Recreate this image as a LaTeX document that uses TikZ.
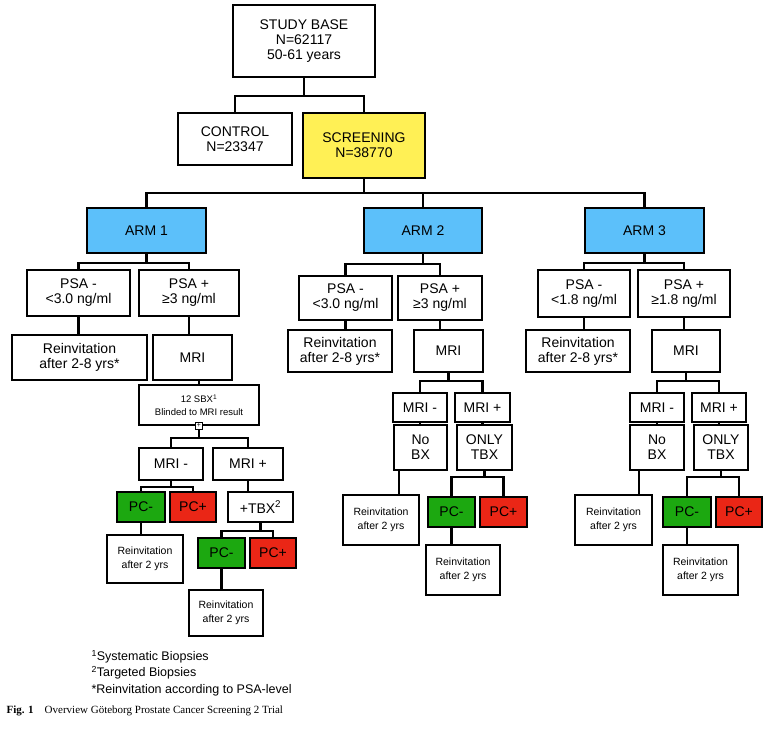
\documentclass[tikz,border=0pt]{standalone}
\usepackage{fontspec}
\setmainfont{Liberation Sans}
\newfontfamily\serif{Liberation Serif}
\definecolor{armblue}{RGB}{92,192,250}
\definecolor{scryel}{RGB}{255,240,85}
\definecolor{pcgreen}{RGB}{28,168,16}
\definecolor{pcred}{RGB}{234,38,22}
\newcommand{\B}[7]{\node[box,#6,minimum width={#4pt-#2pt},minimum height={#5pt-#3pt}] (#1) at ({(#2+#4)/2},{(#3+#5)/2}) {#7};}
\newcommand{\con}[3]{\draw[ln] (#1.south) -- ++(0,#3) -| (#2.north);}
\newcommand{\vd}[2]{\draw[ln] (#1.south) -- (#1.south |- #2.north);}
\newcommand{\vu}[2]{\draw[ln] (#2.north) -- (#2.north |- #1.south);}
\begin{document}
\begin{tikzpicture}[x=1pt,y=-1pt,
 box/.style={draw,line width=1.8pt,inner sep=1pt,align=center,font=\fontsize{14}{15}\selectfont},
 sm/.style={font=\fontsize{10.5}{14}\selectfont},
 ln/.style={line width=2.2pt},
 arm/.style={fill=armblue},
 neg/.style={fill=pcgreen},
 posi/.style={fill=pcred}]
\useasboundingbox (0,0) rectangle (778,728);
\B{sb}{233}{5}{375}{77}{}{STUDY BASE\\N=62117\\50-61 years}
\B{ctl}{178}{113}{292}{165}{}{CONTROL\\N=23347}
\B{scr}{303}{113}{425}{178}{fill=scryel}{SCREENING\\N=38770}
\con{sb}{ctl}{18}\con{sb}{scr}{18}
\B{a1}{87}{208}{206}{253}{arm}{ARM 1}
\B{a2}{364}{208}{482}{253}{arm}{ARM 2}
\B{a3}{585}{208}{704}{253}{arm}{ARM 3}
\con{scr}{a1}{14}\con{scr}{a2}{14}\con{scr}{a3}{14}
% ARM 1
\B{p1m}{27}{270}{130}{316}{}{PSA -\\<3.0 ng/ml}
\B{p1p}{139}{270}{239}{316}{}{PSA +\\≥3 ng/ml}
\con{a1}{p1m}{9}\con{a1}{p1p}{9}
\B{r1}{12}{335}{147}{380}{}{Reinvitation\\after 2-8 yrs*}
\B{m1}{153}{335}{232}{380}{}{MRI}
\vd{p1m}{r1}\vd{p1p}{m1}
\B{sbx}{139}{385}{259}{425}{font=\fontsize{9.5}{12.5}\selectfont}{12 SBX\textsuperscript{1}\\Blinded to MRI result}
\vu{m1}{sbx}
\node[draw,line width=0.6pt,fill=white,minimum size=7pt,inner sep=0pt,font=\fontsize{7}{7}\selectfont] (plus) at (sbx.south) {+};
\B{m1m}{139}{448}{203}{480}{}{MRI -}
\B{m1p}{213}{448}{283}{480}{}{MRI +}
\draw[ln] (plus.south) -- ++(0,8.5) -| (m1m.north);
\draw[ln] (plus.south) -- ++(0,8.5) -| (m1p.north);
\B{pc1a}{117}{492}{165}{522}{neg}{PC-}
\B{pc1b}{170}{492}{216}{522}{posi}{PC+}
\con{m1m}{pc1a}{6}\con{m1m}{pc1b}{6}
\B{tbx1}{228}{492}{293}{522}{}{+TBX\textsuperscript{2}}
\vd{m1p}{tbx1}
\B{ri1}{107}{535}{183}{583}{sm}{Reinvitation\\after 2 yrs}
\vd{pc1a}{ri1}
\B{pc1c}{198}{538}{245}{568}{neg}{PC-}
\B{pc1d}{250}{538}{296}{568}{posi}{PC+}
\con{tbx1}{pc1c}{8}\con{tbx1}{pc1d}{8}
\B{ri1b}{189}{590}{263}{636}{sm}{Reinvitation\\after 2 yrs}
\vd{pc1c}{ri1b}
% ARM 2
\B{p2m}{299}{276}{392}{320}{}{PSA -\\<3.0 ng/ml}
\B{p2p}{398}{276}{482}{320}{}{PSA +\\≥3 ng/ml}
\con{a2}{p2m}{10}\con{a2}{p2p}{10}
\B{r2}{288}{330}{392}{372}{}{Reinvitation\\after 2-8 yrs*}
\B{m2}{414}{330}{483}{372}{}{MRI}
\vd{p2m}{r2}\vd{p2p}{m2}
\B{m2m}{393}{393}{447}{422}{}{MRI -}
\B{m2p}{455}{393}{510}{422}{}{MRI +}
\con{m2}{m2m}{8}\con{m2}{m2p}{8}
\B{nb2}{394}{425}{447}{470}{}{No\\BX}
\B{ot2}{457}{425}{512}{470}{}{ONLY\\TBX}
\vd{m2m}{nb2}\vd{m2p}{ot2}
\B{ri2}{343}{495}{419}{545}{sm}{Reinvitation\\after 2 yrs}
\draw[ln] ([xshift=6pt]nb2.south west) -- ([xshift=6pt]nb2.south west |- ri2.north);
\B{pc2a}{428}{497}{475}{527}{neg}{PC-}
\B{pc2b}{480}{497}{527}{527}{posi}{PC+}
\con{ot2}{pc2a}{6}\con{ot2}{pc2b}{6}
\B{ri2b}{426}{545}{500}{595}{sm}{Reinvitation\\after 2 yrs}
\vd{pc2a}{ri2b}
% ARM 3
\B{p3m}{538}{270}{630}{317}{}{PSA -\\<1.8 ng/ml}
\B{p3p}{638}{270}{730}{317}{}{PSA +\\≥1.8 ng/ml}
\con{a3}{p3m}{9}\con{a3}{p3p}{9}
\B{r3}{526}{330}{630}{372}{}{Reinvitation\\after 2-8 yrs*}
\B{m3}{652}{330}{720}{372}{}{MRI}
\vd{p3m}{r3}\vd{p3p}{m3}
\B{m3m}{630}{393}{684}{422}{}{MRI -}
\B{m3p}{692}{393}{746}{422}{}{MRI +}
\con{m3}{m3m}{8}\con{m3}{m3p}{8}
\B{nb3}{630}{425}{684}{470}{}{No\\BX}
\B{ot3}{694}{425}{748}{470}{}{ONLY\\TBX}
\vd{m3m}{nb3}\vd{m3p}{ot3}
\B{ri3}{575}{495}{652}{545}{sm}{Reinvitation\\after 2 yrs}
\draw[ln] ([xshift=10pt]nb3.south west) -- ([xshift=10pt]nb3.south west |- ri3.north);
\B{pc3a}{663}{497}{711}{527}{neg}{PC-}
\B{pc3b}{716}{497}{762}{527}{posi}{PC+}
\con{ot3}{pc3a}{6}\con{ot3}{pc3b}{6}
\B{ri3b}{663}{545}{738}{595}{sm}{Reinvitation\\after 2 yrs}
\vd{pc3a}{ri3b}
% notes
\node[anchor=west,align=left,font=\fontsize{12.5}{16.5}\selectfont] (notes) at (88,673) {\textsuperscript{1}Systematic Biopsies\\\textsuperscript{2}Targeted Biopsies\\*Reinvitation according to PSA-level};
\node[anchor=west,font=\serif\fontsize{11}{12}\selectfont] (cap) at (3,711) {\textbf{Fig. 1}\quad Overview Göteborg Prostate Cancer Screening 2 Trial};
\end{tikzpicture}
\end{document}
